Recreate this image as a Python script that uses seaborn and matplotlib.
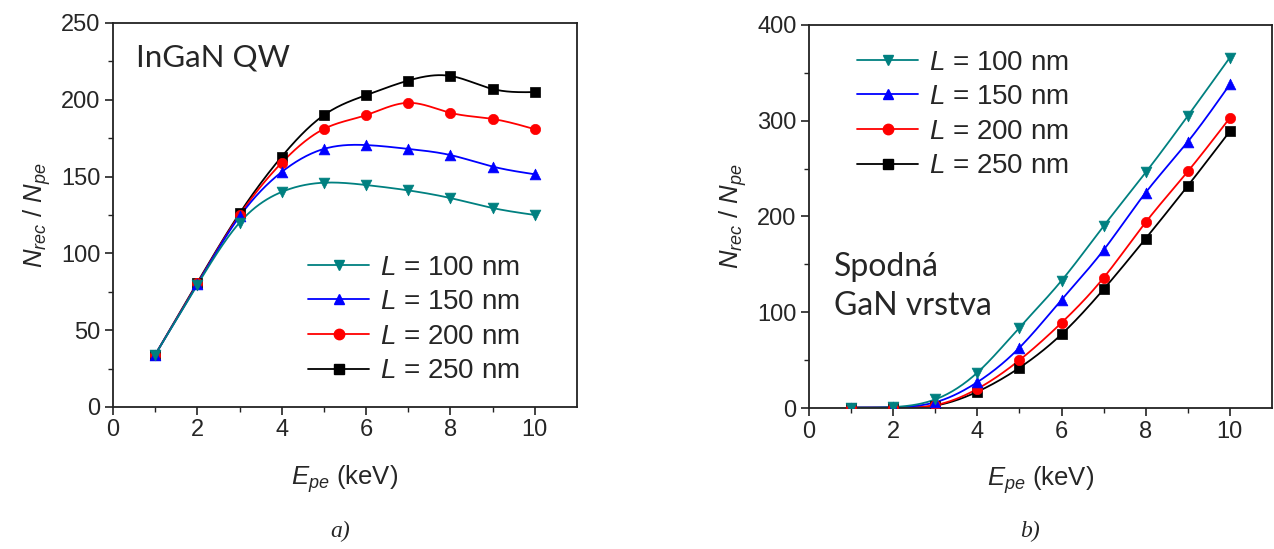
import numpy as np
import pandas as pd
import matplotlib
matplotlib.use("Agg")
import matplotlib.pyplot as plt
import seaborn as sns

# Primary-electron energy (keV)
energy = [1, 2, 3, 4, 5, 6, 7, 8, 9, 10]

# Panel a) InGaN QW: recombinations per primary electron
qw_100 = [34, 79.5, 120, 140, 146, 144.5, 141, 136, 129.5, 125]
qw_150 = [34, 80, 124, 153, 168, 170.5, 168, 164, 156.5, 151.5]
qw_200 = [34, 80.5, 125, 159, 181, 190, 198, 191.5, 187.5, 180.8]
qw_250 = [34, 81, 126, 163, 190, 203, 212.5, 215.5, 207, 205]

# Panel b) bottom GaN layer
gan_100 = [0.5, 1.0, 9, 37, 84, 133, 190, 246, 305, 366]
gan_150 = [0.5, 0.8, 6, 27, 63, 113, 165, 225, 278, 338]
gan_200 = [0.4, 0.5, 3, 20, 50, 89, 136, 194, 247, 303]
gan_250 = [0.3, 0.4, 2.5, 17, 42, 77, 124, 177, 232, 289]

lengths = ["100", "150", "200", "250"]
colors = {"100": "#008080", "150": "#0000FF", "200": "#FF0000", "250": "#000000"}
markers = {"100": "v", "150": "^", "200": "o", "250": "s"}
msizes = {"100": 60, "150": 60, "200": 55, "250": 42}

sns.set_theme(style="ticks")
plt.rcParams["font.family"] = ["Liberation Sans", "DejaVu Sans"]
plt.rcParams["mathtext.fontset"] = "custom"
plt.rcParams["mathtext.it"] = "Liberation Sans:italic"
plt.rcParams["mathtext.rm"] = "Liberation Sans"
plt.rcParams["mathtext.default"] = "it"


def natural_spline(x, y, n=300):
    """Natural cubic spline through (x, y), evaluated on a dense grid."""
    x = np.asarray(x, float)
    y = np.asarray(y, float)
    k = len(x)
    h = np.diff(x)
    A = np.zeros((k, k))
    b = np.zeros(k)
    A[0, 0] = A[-1, -1] = 1.0
    for i in range(1, k - 1):
        A[i, i - 1] = h[i - 1]
        A[i, i] = 2 * (h[i - 1] + h[i])
        A[i, i + 1] = h[i]
        b[i] = 6 * ((y[i + 1] - y[i]) / h[i] - (y[i] - y[i - 1]) / h[i - 1])
    M = np.linalg.solve(A, b)
    xs = np.linspace(x[0], x[-1], n)
    idx = np.clip(np.searchsorted(x, xs) - 1, 0, k - 2)
    x0, x1 = x[idx], x[idx + 1]
    hh = x1 - x0
    t0, t1 = x1 - xs, xs - x0
    ys = (M[idx] * t0 ** 3 + M[idx + 1] * t1 ** 3) / (6 * hh) \
        + (y[idx] / hh - M[idx] * hh / 6) * t0 \
        + (y[idx + 1] / hh - M[idx + 1] * hh / 6) * t1
    return xs, ys


def draw_panel(ax, series, ymax, ystep, yminor):
    # draw longest first so the 100 nm curve ends up on top
    for L in reversed(lengths):
        vals = series[L]
        xs, ys = natural_spline(energy, vals)
        curve = pd.DataFrame({"E": xs, "N": ys})
        pts = pd.DataFrame({"E": energy, "N": vals})
        sns.lineplot(data=curve, x="E", y="N", ax=ax, color=colors[L],
                     lw=1.3, zorder=2)
        sns.scatterplot(data=pts, x="E", y="N", ax=ax, color=colors[L],
                        marker=markers[L], s=msizes[L], edgecolor=colors[L],
                        linewidth=0.5, zorder=3)
    ax.set_xlim(0, 11)
    ax.set_ylim(0, ymax)
    ax.set_xticks([0, 2, 4, 6, 8, 10])
    ax.set_xticks(np.arange(1, 11, 2), minor=True)
    ax.set_yticks(np.arange(0, ymax + 1, ystep))
    ax.set_yticks(np.arange(yminor, ymax, ystep), minor=True)
    ax.tick_params(which="major", direction="out", length=6, width=1.2,
                   labelsize=17, pad=3, color="#222222")
    ax.tick_params(which="minor", direction="out", length=3.5, width=1.0,
                   color="#222222")
    for s in ax.spines.values():
        s.set_linewidth(1.3)
        s.set_color("#222222")
    ax.set_xlabel(r"$E_{pe}$ (keV)", fontsize=18.5, labelpad=16)
    ax.set_ylabel(r"$N_{rec}$ / $N_{pe}$", fontsize=18.5, labelpad=6)
    # legend built from the same styles as the plotted series
    handles = [plt.Line2D([], [], color=colors[L], marker=markers[L], lw=1.3,
                          markersize=7.5 if markers[L] != "s" else 6.5)
               for L in lengths]
    labels = [rf"$L$ = {L} nm" for L in lengths]
    return handles, labels


fig = plt.figure(figsize=(12.74, 5.49), dpi=100)
ax1 = fig.add_axes([0.0887, 0.2587, 0.3642, 0.6995])
ax2 = fig.add_axes([0.635, 0.2568, 0.3634, 0.6977])

h1, l1 = draw_panel(ax1, {"100": qw_100, "150": qw_150,
                          "200": qw_200, "250": qw_250}, 250, 50, 25)
h2, l2 = draw_panel(ax2, {"100": gan_100, "150": gan_150,
                          "200": gan_200, "250": gan_250}, 400, 100, 50)

leg_kw = dict(frameon=False, fontsize=20, handlelength=2.2,
              handletextpad=0.4, labelspacing=0.31, borderpad=0.0,
              borderaxespad=0.0)
ax1.legend(h1, l1, loc="center left",
           bbox_to_anchor=(195 / 464, (407 - 319.5) / 384), **leg_kw)
ax2.legend(h2, l2, loc="center left",
           bbox_to_anchor=(48 / 463, (408 - 114.5) / 383), **leg_kw)

ax1.text(0.05, 0.91, "InGaN QW", transform=ax1.transAxes, fontsize=22.5,
         family=["Lato", "DejaVu Sans"], va="center", ha="left")
ax2.text(0.055, 0.318, "Spodná\nGaN vrstva", transform=ax2.transAxes,
         fontsize=23, family=["Lato", "DejaVu Sans"], va="center", ha="left",
         linespacing=1.38)

fig.text(340 / 1274, 1 - 531 / 549, "a)", fontsize=17, style="italic",
         family=["Liberation Serif", "DejaVu Serif"], ha="center", va="center")
fig.text(1030 / 1274, 1 - 531 / 549, "b)", fontsize=17, style="italic",
         family=["Liberation Serif", "DejaVu Serif"], ha="center", va="center")

fig.savefig("out.png", dpi=100)
